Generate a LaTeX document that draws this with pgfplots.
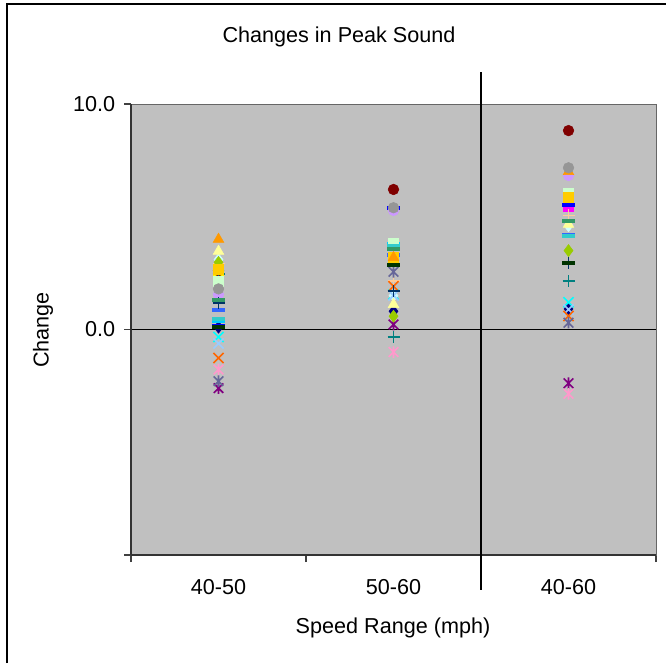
\documentclass[border=0pt]{standalone}
\usepackage{pgfplots}
\pgfplotsset{compat=1.18}
\usepackage{fontspec}
\setmainfont{Liberation Sans}
\definecolor{plotbg}{HTML}{C0C0C0}
\definecolor{s1}{HTML}{000080}
\definecolor{s2}{HTML}{FF00FF}
\definecolor{s3}{HTML}{FFFF00}
\definecolor{s4}{HTML}{00FFFF}
\definecolor{s5}{HTML}{800080}
\definecolor{s6}{HTML}{800000}
\definecolor{s7}{HTML}{008080}
\definecolor{s8}{HTML}{0000FF}
\definecolor{s9}{HTML}{00CCFF}
\definecolor{s10}{HTML}{CCFFFF}
\definecolor{s11}{HTML}{CCFFCC}
\definecolor{s12}{HTML}{FFFF99}
\definecolor{s13}{HTML}{99CCFF}
\definecolor{s14}{HTML}{FF99CC}
\definecolor{s15}{HTML}{CC99FF}
\definecolor{s16}{HTML}{FFCC99}
\definecolor{s17}{HTML}{3366FF}
\definecolor{s18}{HTML}{33CCCC}
\definecolor{s19}{HTML}{99CC00}
\definecolor{s20}{HTML}{FFCC00}
\definecolor{s21}{HTML}{FF9900}
\definecolor{s22}{HTML}{FF6600}
\definecolor{s23}{HTML}{666699}
\definecolor{s24}{HTML}{969696}
\definecolor{s25}{HTML}{003366}
\definecolor{s26}{HTML}{339966}
\definecolor{s27}{HTML}{003300}
\pgfdeclareplotmark{exstar}{%
  \pgfpathmoveto{\pgfqpoint{-\pgfplotmarksize}{-\pgfplotmarksize}}%
  \pgfpathlineto{\pgfqpoint{\pgfplotmarksize}{\pgfplotmarksize}}%
  \pgfpathmoveto{\pgfqpoint{-\pgfplotmarksize}{\pgfplotmarksize}}%
  \pgfpathlineto{\pgfqpoint{\pgfplotmarksize}{-\pgfplotmarksize}}%
  \pgfpathmoveto{\pgfqpoint{0pt}{-1.2\pgfplotmarksize}}%
  \pgfpathlineto{\pgfqpoint{0pt}{1.2\pgfplotmarksize}}%
  \pgfusepathqstroke}
\pgfdeclareplotmark{exx}{%
  \pgfpathmoveto{\pgfqpoint{-\pgfplotmarksize}{-\pgfplotmarksize}}%
  \pgfpathlineto{\pgfqpoint{\pgfplotmarksize}{\pgfplotmarksize}}%
  \pgfpathmoveto{\pgfqpoint{-\pgfplotmarksize}{\pgfplotmarksize}}%
  \pgfpathlineto{\pgfqpoint{\pgfplotmarksize}{-\pgfplotmarksize}}%
  \pgfusepathqstroke}
\pgfdeclareplotmark{exdash}{%
  \pgfpathrectangle{\pgfqpoint{-1.1\pgfplotmarksize}{-0.35\pgfplotmarksize}}{\pgfqpoint{2.2\pgfplotmarksize}{0.7\pgfplotmarksize}}%
  \pgfusepathqfill}
\pgfplotsset{
  mdia/.style={only marks, mark=diamond*, mark size=4.5pt, color=#1, mark options={fill=#1, draw=#1, line width=0.4pt}},
  msq/.style={only marks, mark=square*, mark size=3.8pt, color=#1, mark options={fill=#1, draw=#1, line width=0.4pt}},
  mtri/.style={only marks, mark=triangle*, mark size=4.6pt, color=#1, mark options={fill=#1, draw=#1, line width=0.4pt}},
  mx/.style={only marks, mark=exx, mark size=3.8pt, color=#1, mark options={draw=#1, line width=1.2pt}},
  mstar/.style={only marks, mark=exstar, mark size=3.6pt, color=#1, mark options={draw=#1, line width=1.2pt}},
  mcirc/.style={only marks, mark=*, mark size=4pt, color=#1, mark options={fill=#1, draw=#1, line width=0.4pt}},
  mplus/.style={only marks, mark=+, mark size=4.5pt, color=#1, mark options={draw=#1, line width=1.2pt}},
  mdash/.style={only marks, mark=exdash, mark size=4.2pt, color=#1, mark options={fill=#1, draw=none}},
}
\begin{document}
\begin{tikzpicture}
\fontsize{16.2}{19}\selectfont
\path[use as bounding box] (0pt,0pt) rectangle (499.5pt,497.25pt);
\draw[black, line width=1.4pt] (5pt,0pt) -- (5pt,494.25pt) -- (499.5pt,494.25pt);
\node at (254.25pt,469.5pt) {Changes in Peak Sound};
\node[rotate=90] at (32.25pt,249.75pt) {Change};
\node at (294.75pt,26pt) {Speed Range (mph)};
\begin{axis}[
  at={(98.25pt,81pt)}, anchor=south west,
  scale only axis, width=393.75pt, height=338.25pt,
  xmin=0, xmax=3, ymin=-10, ymax=10,
  xtick={0.5,1.5,2.5}, xticklabels={40-50,50-60,40-60},
  minor xtick={0,1,2,3},
  ytick={-10,0,10}, yticklabels={,0.0,10.0},
  xtick pos=bottom, ytick pos=left,
  tick align=outside, major tick length=5.25pt, minor tick length=5.25pt,
  major x tick style={draw=none},
  tick style={black!75, line width=0.8pt},
  axis line style={draw=gray!80!black, line width=0.6pt},
  axis background/.style={fill=plotbg},
  /pgf/number format/assume math mode=true,
  tick label style={font=\fontsize{16.2}{19}\selectfont},
  xticklabel style={yshift=-7.5pt},
  yticklabel style={xshift=-1pt},
  clip=false,
]
\draw[black, line width=0.8pt] (axis cs:0,0) -- (axis cs:3,0);
\draw[black!80, line width=1pt] (axis cs:0,-10) -- (axis cs:0,10);
\draw[black!80, line width=1pt] (axis cs:0,-10) -- (axis cs:3,-10);
\addplot[mdia=s1]  coordinates {(0.5,0.10) (1.5,0.81) (2.5,0.91)};
\addplot[msq=s2]   coordinates {(0.5,2.40) (1.5,3.10) (2.5,5.47)};
\addplot[mtri=s3]  coordinates {(0.5,2.50) (1.5,3.10) (2.5,5.60)};
\addplot[mx=s4]    coordinates {(0.5,-0.33) (1.5,1.55) (2.5,1.21)};
\addplot[mstar=s5] coordinates {(0.5,-2.60) (1.5,0.22) (2.5,-2.38)};
\addplot[mcirc=s6] coordinates {(0.5,2.61) (1.5,6.21) (2.5,8.82)};
\addplot[mplus=s7] coordinates {(0.5,2.47) (1.5,-0.33) (2.5,2.14)};
\addplot[mdash=s8] coordinates {(0.5,0.14) (1.5,5.40) (2.5,5.54)};
\addplot[mdash=s9] coordinates {(0.5,0.38) (1.5,3.80) (2.5,4.18)};
\addplot[mdia=s10] coordinates {(0.5,3.10) (1.5,1.50) (2.5,4.60)};
\addplot[msq=s11]  coordinates {(0.5,2.14) (1.5,3.84) (2.5,6.06)};
\addplot[mtri=s12] coordinates {(0.5,3.47) (1.5,1.11) (2.5,4.66)};
\addplot[mx=s13]   coordinates {(0.5,-0.62) (1.5,1.51) (2.5,0.89)};
\addplot[mstar=s14] coordinates {(0.5,-1.77) (1.5,-1.00) (2.5,-2.85)};
\addplot[mcirc=s15] coordinates {(0.5,1.55) (1.5,5.28) (2.5,6.83)};
\addplot[mplus=s16] coordinates {(0.5,2.92) (1.5,2.14) (2.5,5.06)};
\addplot[mdash=s17] coordinates {(0.5,0.86) (1.5,3.32) (2.5,4.18)};
\addplot[mdash=s18] coordinates {(0.5,0.45) (1.5,3.70) (2.5,4.15)};
\addplot[mdia=s19] coordinates {(0.5,2.98) (1.5,0.59) (2.5,3.50)};
\addplot[msq=s20]  coordinates {(0.5,2.66) (1.5,3.22) (2.5,5.87)};
\addplot[mtri=s21] coordinates {(0.5,4.00) (1.5,3.19) (2.5,7.00)};
\addplot[mx=s22]   coordinates {(0.5,-1.26) (1.5,1.92) (2.5,0.60)};
\addplot[mstar=s23] coordinates {(0.5,-2.29) (1.5,2.56) (2.5,0.30)};
\addplot[mcirc=s24] coordinates {(0.5,1.80) (1.5,5.40) (2.5,7.17)};
\addplot[mplus=s25] coordinates {(0.5,1.18) (1.5,1.70) (2.5,2.93)};
\addplot[mdash=s26] coordinates {(0.5,1.29) (1.5,3.55) (2.5,4.80)};
\addplot[mdash=s27] coordinates {(0.5,0.12) (1.5,2.85) (2.5,2.93)};
\draw[black, line width=1.1pt] (axis cs:2,11.4) -- (axis cs:2,-11.53);
\end{axis}
\end{tikzpicture}
\end{document}
